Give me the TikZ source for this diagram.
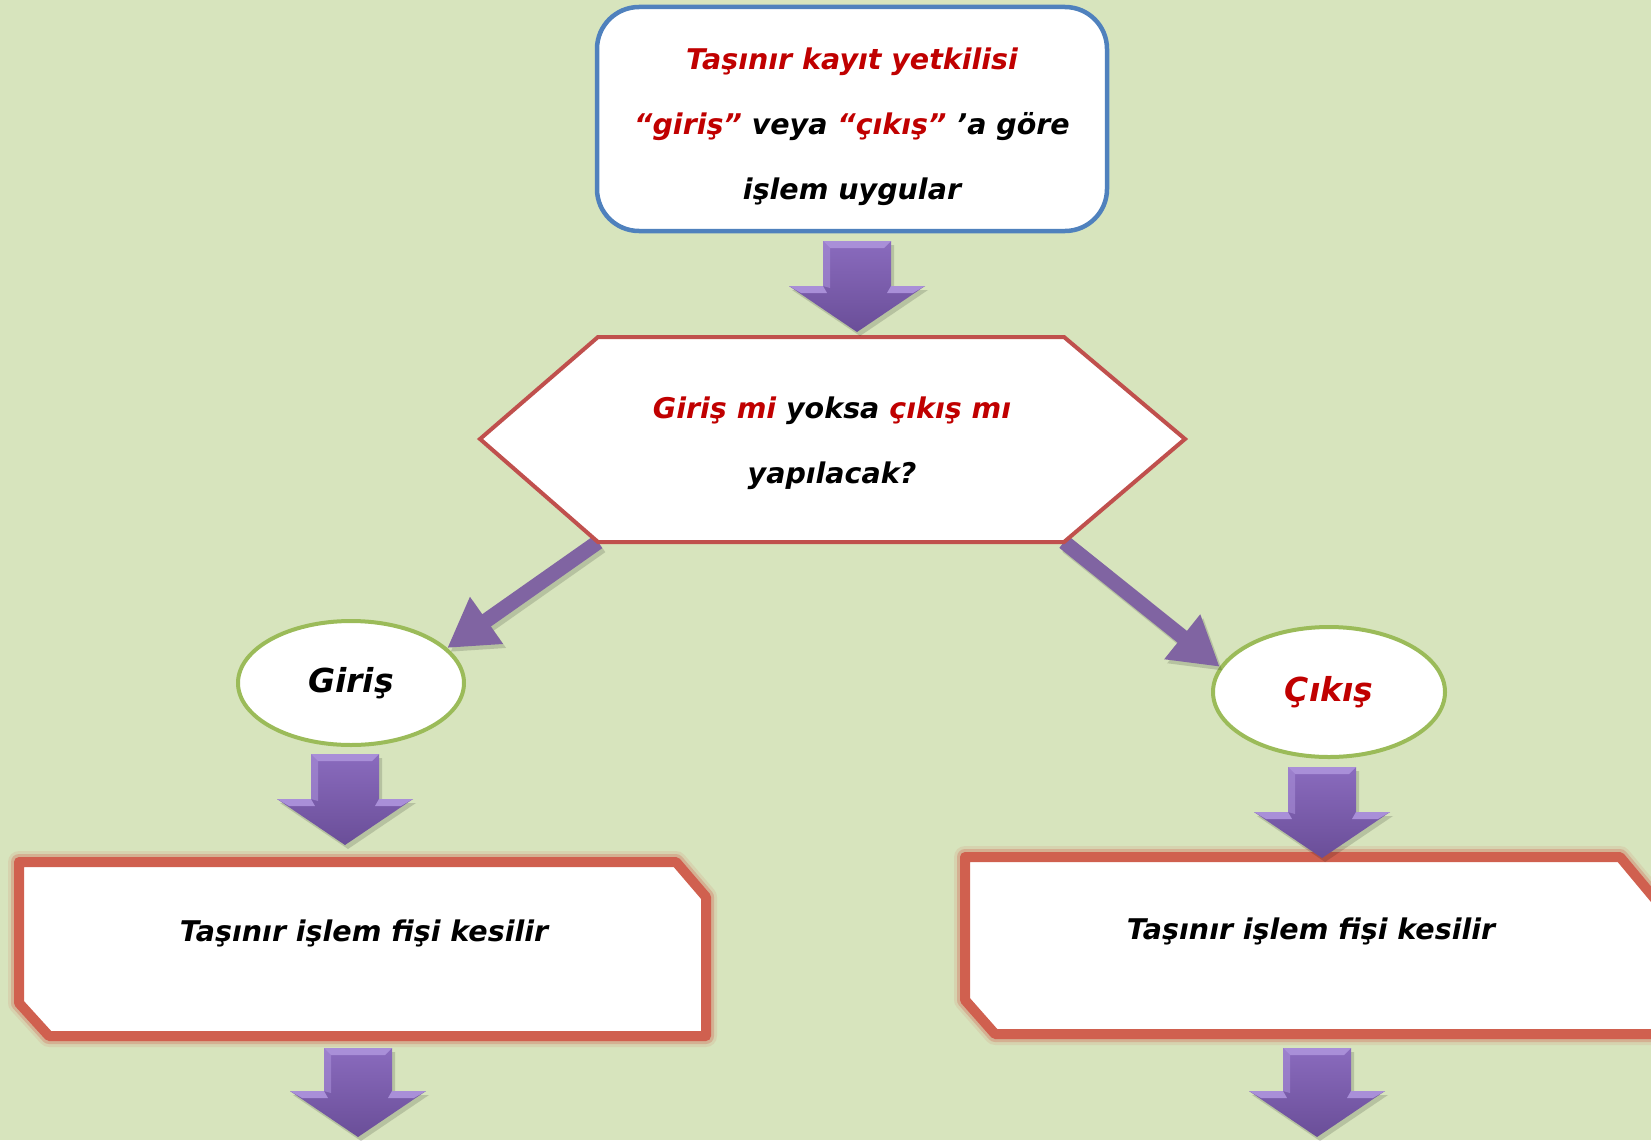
\documentclass[tikz,border=0pt]{standalone}
\usepackage{fontspec}
\setmainfont{DejaVu Sans}
\usetikzlibrary{arrows.meta,shapes.geometric}
\definecolor{bg}{HTML}{D7E4BD}
\definecolor{txtred}{HTML}{C00000}
\definecolor{blueb}{HTML}{4F81BD}
\definecolor{redb}{HTML}{C0504D}
\definecolor{greenb}{HTML}{9BBB59}
\definecolor{purp}{HTML}{8064A2}
\definecolor{glowred}{HTML}{D0604F}
\definecolor{arrtop}{HTML}{8A6BBE}
\definecolor{arrbot}{HTML}{6A4E98}
\definecolor{arrlight}{HTML}{A98FD8}
\newcommand\barrow[3]{%
  \pgfmathsetmacro\wy{#3-46}%
  \fill[black,opacity=0.15] (#1-34+3,#2+4) -- (#1+34+3,#2+4) -- (#1+34+3,\wy+4) -- (#1+68+3,\wy+4) -- (#1+3,#3+4) -- (#1-68+3,\wy+4) -- (#1-34+3,\wy+4) -- cycle;
  \shade[top color=arrtop,bottom color=arrbot] (#1-34,#2) -- (#1+34,#2) -- (#1+34,\wy) -- (#1+68,\wy) -- (#1,#3) -- (#1-68,\wy) -- (#1-34,\wy) -- cycle;
  \fill[arrlight] (#1-34,#2) -- (#1+34,#2) -- (#1+27,#2+7) -- (#1-27,#2+7) -- cycle;
  \fill[arrlight,opacity=0.6] (#1-34,#2) -- (#1-27,#2+7) -- (#1-27,\wy+2) -- (#1-34,\wy) -- cycle;
  \fill[arrlight] (#1-68,\wy) -- (#1-34,\wy) -- (#1-30,\wy+7) -- (#1-56,\wy+7) -- cycle;
  \fill[arrlight] (#1+68,\wy) -- (#1+34,\wy) -- (#1+30,\wy+7) -- (#1+56,\wy+7) -- cycle;
}
\begin{document}
\begin{tikzpicture}[x=1pt,y=-1pt,
  txt/.style={font=\fontsize{28.5}{65}\selectfont\bfseries\itshape, align=center, text=black},
  topbox/.style={draw=blueb, line width=4.5pt, fill=white, rounded corners=42pt,
    minimum width=510pt, minimum height=224pt},
  hexline/.style={draw=redb, line width=4pt, fill=white, line join=miter},
  oval/.style={ellipse, draw=greenb, line width=4pt, fill=white,
    font=\fontsize{33}{40}\selectfont\bfseries\itshape},
  diag/.style={purp, line width=15pt, -{Triangle[length=48pt,width=54pt]}},
  diagshadow/.style={black, opacity=0.15, line width=15pt, -{Triangle[length=48pt,width=54pt]}},
  glow1/.style={draw=glowred, line width=22pt, opacity=0.12, line join=round},
  glow2/.style={draw=glowred, line width=16pt, opacity=0.3, line join=round},
  fisbox/.style={draw=glowred, line width=10pt, fill=white, line join=round},
]
\fill[bg] (0,0) rectangle (1651,1140);
\useasboundingbox (0,0) rectangle (1651,1140);
\clip (0,0) rectangle (1651,1140);

% top box
\node[topbox] (top) at (852,119) {};
\node[txt] (toptext) at (852,127) {\textcolor{txtred}{Taşınır kayıt yetkilisi}\\
  \textcolor{txtred}{“giriş”} veya \textcolor{txtred}{“çıkış”} ’a göre\\
  işlem uygular};

% hexagon corners
\coordinate (hTL) at (598,337);
\coordinate (hTR) at (1064,337);
\coordinate (hR) at (1185,439);
\coordinate (hBR) at (1064,542);
\coordinate (hBL) at (598,542);
\coordinate (hL) at (480,439);

% ovals
\node[oval, minimum width=226pt, minimum height=124pt] (giris) at (351,683) {Giriş};
\node[oval, minimum width=232pt, minimum height=130pt, text=txtred] (cikis) at (1329,692) {Çıkış};

% diagonal arrows
\draw[diagshadow] ([shift={(3,4)}]hBL) -- ([shift={(3,4)}]giris.20);
\draw[diagshadow] ([shift={(3,4)}]hBR) -- ([shift={(3,4)}]cikis.167);
\draw[diag] (hBL) -- (giris.20);
\draw[diag] (hBR) -- (cikis.167);

% hexagon
\draw[hexline] (hTL) -- (hTR) -- (hR) -- (hBR) -- (hBL) -- (hL) -- cycle;
\node[txt] (hex) at (832,443) {\textcolor{txtred}{Giriş mi} yoksa \textcolor{txtred}{çıkış mı}\\ yapılacak?};

% bottom boxes
\draw[glow1] (19,862) -- (676,862) -- (706,897) -- (706,1036) -- (49,1036) -- (19,1003) -- cycle;
\draw[glow2] (19,862) -- (676,862) -- (706,897) -- (706,1036) -- (49,1036) -- (19,1003) -- cycle;
\draw[fisbox] (19,862) -- (676,862) -- (706,897) -- (706,1036) -- (49,1036) -- (19,1003) -- cycle;
\node[txt] (fisL) at (364,933) {Taşınır işlem fişi kesilir};

\draw[glow1] (965,857) -- (1620,857) -- (1660,905) -- (1660,1034) -- (995,1034) -- (965,1000) -- cycle;
\draw[glow2] (965,857) -- (1620,857) -- (1660,905) -- (1660,1034) -- (995,1034) -- (965,1000) -- cycle;
\draw[fisbox] (965,857) -- (1620,857) -- (1660,905) -- (1660,1034) -- (995,1034) -- (965,1000) -- cycle;
\node[txt] (fisR) at (1311,931) {Taşınır işlem fişi kesilir};

% block arrows
\barrow{857}{241}{332}
\barrow{345}{754}{845}
\barrow{1322}{767}{858}
\barrow{358}{1048}{1137}
\barrow{1317}{1048}{1137}
\end{tikzpicture}
\end{document}
